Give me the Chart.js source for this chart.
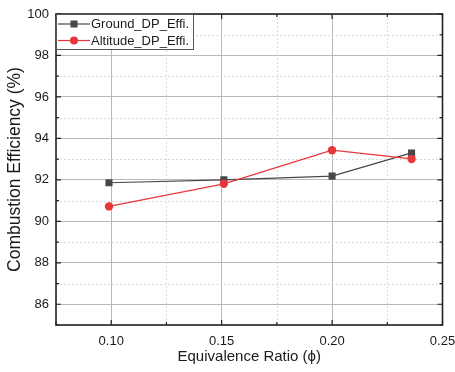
<!DOCTYPE html>
<html><head><meta charset="utf-8">
<script src="https://cdn.jsdelivr.net/npm/chart.js@4.4.1/dist/chart.umd.min.js"></script>
<style>html,body{margin:0;padding:0;background:#fff}#wrap{width:455px;height:372px}</style>
</head><body><div id="wrap"><canvas id="c" width="455" height="372"></canvas></div>
<script>
const seriesNames = ["Ground_DP_Effi.", "Altitude_DP_Effi."];
const phiGround = [0.099, 0.151, 0.200, 0.236];
const effGround = [91.86, 92.0, 92.18, 93.3];
const phiAltitude = [0.099, 0.151, 0.200, 0.236];
const effAltitude = [90.72, 91.81, 93.43, 93.01];
const xTickLabels = ["0.10", "0.15", "0.20", "0.25"];
const yTickLabels = ["86", "88", "90", "92", "94", "96", "98", "100"];

const FONT = "'Liberation Sans', Arial, sans-serif";
const GRAY = '#474747', RED = '#e8373b';
const isMajorX = v => Math.round(v * 1000) % 50 === 0;
const isMajorY = v => Math.round(v) % 2 === 0;

const framePlugin = {
  id: 'frame',
  beforeDatasetsDraw(chart) {
    const {ctx, chartArea: a, scales: {x, y}} = chart;
    ctx.save();
    ctx.strokeStyle = '#dadada'; ctx.lineWidth = 1; ctx.setLineDash([2, 2]);
    x.ticks.forEach(t => { if (!isMajorX(t.value)) { const px = Math.round(x.getPixelForValue(t.value)) + 0.5; ctx.beginPath(); ctx.moveTo(px, a.top); ctx.lineTo(px, a.bottom); ctx.stroke(); }});
    y.ticks.forEach(t => { if (!isMajorY(t.value)) { const py = Math.round(y.getPixelForValue(t.value)) + 0.5; ctx.beginPath(); ctx.moveTo(a.left, py); ctx.lineTo(a.right, py); ctx.stroke(); }});
    ctx.restore();
  },
  afterDatasetsDraw(chart) {
    const {ctx, chartArea: a, scales: {x, y}} = chart;
    ctx.save();
    ctx.strokeStyle = '#222'; ctx.lineWidth = 1.6; ctx.setLineDash([]);
    ctx.strokeRect(a.left, a.top, a.right - a.left, a.bottom - a.top);
    ctx.lineWidth = 1.2;
    x.ticks.forEach(t => {
      const px = x.getPixelForValue(t.value); const L = isMajorX(t.value) ? 5 : 3;
      ctx.beginPath(); ctx.moveTo(px, a.bottom); ctx.lineTo(px, a.bottom - L);
      ctx.moveTo(px, a.top); ctx.lineTo(px, a.top + L); ctx.stroke();
    });
    y.ticks.forEach(t => {
      const py = y.getPixelForValue(t.value); const L = isMajorY(t.value) ? 5 : 3;
      ctx.beginPath(); ctx.moveTo(a.left, py); ctx.lineTo(a.left + L, py);
      ctx.moveTo(a.right, py); ctx.lineTo(a.right - L, py); ctx.stroke();
    });
    // legend
    const lx = a.left, ly = a.top, lw = 137, lh = 35;
    ctx.fillStyle = '#fff'; ctx.fillRect(lx, ly, lw, lh);
    ctx.strokeStyle = '#555'; ctx.lineWidth = 1; ctx.strokeRect(lx + 0.5, ly + 0.5, lw, lh);
    const ds = chart.data.datasets;
    [0, 1].forEach(i => {
      const d = ds.find(e => e.label === seriesNames[i]);
      const ry = ly + 10 + i * 16.5;
      ctx.strokeStyle = d.borderColor; ctx.lineWidth = 1.2;
      ctx.beginPath(); ctx.moveTo(lx + 2, ry); ctx.lineTo(lx + 34, ry); ctx.stroke();
      ctx.fillStyle = d.pointBackgroundColor;
      if (d.pointStyle === 'rect') ctx.fillRect(lx + 18 - 3.5, ry - 3.5, 7, 7);
      else { ctx.beginPath(); ctx.arc(lx + 18, ry, 4, 0, Math.PI * 2); ctx.fill(); }
      ctx.fillStyle = '#1a1a1a'; ctx.font = '13px ' + FONT; ctx.textBaseline = 'middle'; ctx.textAlign = 'left';
      ctx.fillText(d.label, lx + 35, ry + 0.5);
    });
    ctx.restore();
  }
};

new Chart(document.getElementById('c'), {
  type: 'scatter',
  data: {
    datasets: [
      { label: seriesNames[0], data: phiGround.map((v, i) => ({x: v, y: effGround[i]})), showLine: true,
        borderColor: GRAY, backgroundColor: GRAY, pointBackgroundColor: GRAY, pointBorderColor: GRAY,
        pointStyle: 'rect', pointRadius: 5, borderWidth: 1.2, pointBorderWidth: 0, order: 1 },
      { label: seriesNames[1], data: phiAltitude.map((v, i) => ({x: v, y: effAltitude[i]})), showLine: true,
        borderColor: RED, backgroundColor: RED, pointBackgroundColor: RED, pointBorderColor: RED,
        pointStyle: 'circle', pointRadius: 4.2, borderWidth: 1.2, pointBorderWidth: 0, order: 0 }
    ]
  },
  options: {
    responsive: false, animation: false, devicePixelRatio: 1,
    layout: { padding: { top: 14, right: 12.5, left: 0, bottom: 0 } },
    plugins: { legend: { display: false }, tooltip: { enabled: false } },
    scales: {
      x: {
        type: 'linear', min: 0.075, max: 0.25,
        afterFit: s => { s.height = 47; s.paddingLeft = 0; s.paddingRight = 0; },
        ticks: { stepSize: 0.025, padding: 9, color: '#1a1a1a', font: { family: FONT, size: 13 }, maxRotation: 0, autoSkip: false,
          callback: v => { if (!isMajorX(v)) return ''; const s = v.toFixed(2); return xTickLabels.includes(s) ? s : ''; } },
        grid: { drawTicks: false, color: c => (c.tick && isMajorX(c.tick.value)) ? '#b9b9b9' : 'transparent', lineWidth: 1 },
        border: { display: false },
        title: { display: true, text: 'Equivalence Ratio (ϕ)', color: '#1a1a1a', font: { family: FONT, size: 15 }, padding: { top: 0, bottom: 6 } }
      },
      y: {
        type: 'linear', min: 85, max: 100,
        afterFit: s => { s.width = 56; s.paddingTop = 0; s.paddingBottom = 0; },
        ticks: { stepSize: 1, padding: 7, color: '#1a1a1a', font: { family: FONT, size: 13 }, autoSkip: false,
          callback: v => { const s = String(Math.round(v)); return (isMajorY(v) && yTickLabels.includes(s)) ? s : ''; } },
        grid: { drawTicks: false, color: c => (c.tick && isMajorY(c.tick.value)) ? '#b9b9b9' : 'transparent', lineWidth: 1 },
        border: { display: false },
        title: { display: true, text: 'Combustion Efficiency (%)', color: '#1a1a1a', font: { family: FONT, size: 17.5 }, padding: { top: 5, bottom: 0 } }
      }
    }
  },
  plugins: [framePlugin]
});
</script></body></html>
